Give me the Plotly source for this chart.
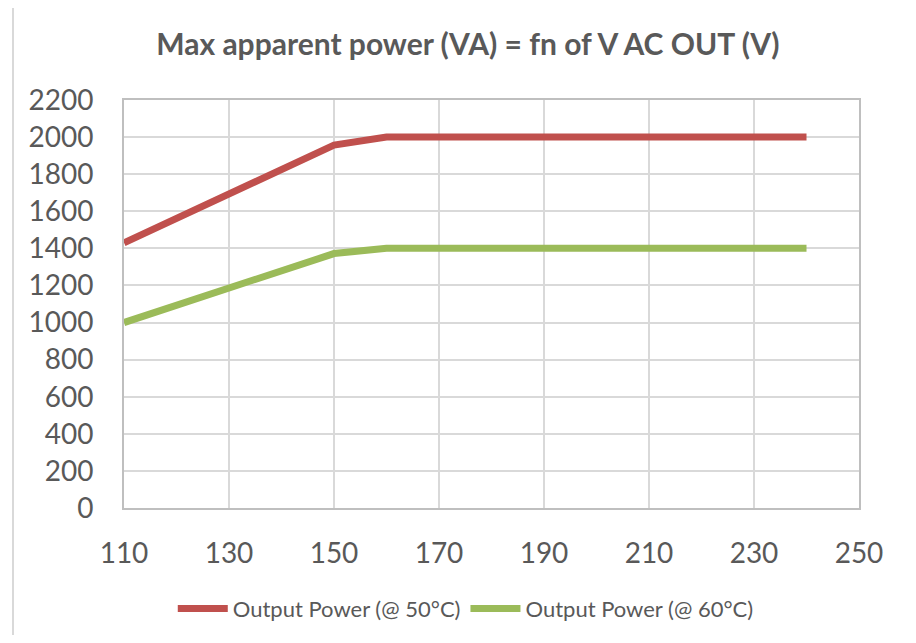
import plotly.graph_objects as go

# Output voltage (V) and max apparent power (VA)
v_out = [110, 150, 160, 240]
power_50c = [1430, 1957, 2000, 2000]
power_60c = [1000, 1372, 1400, 1400]

x_ticks = [110, 130, 150, 170, 190, 210, 230, 250]
y_ticks = list(range(0, 2201, 200))

FONT = "Lato"
GRID = "#d9d9d9"
TXT = "#595959"

fig = go.Figure()
fig.add_trace(go.Scatter(x=v_out, y=power_50c, mode="lines",
                         name="Output Power (@ 50°C)",
                         line=dict(color="#c0504d", width=7)))
fig.add_trace(go.Scatter(x=v_out, y=power_60c, mode="lines",
                         name="Output Power (@ 60°C)",
                         line=dict(color="#9bbb59", width=7)))

# page body has an 8px margin, so the figure is a bit smaller than the window
fig.update_layout(
    width=900, height=627,
    margin=dict(l=116, r=49, t=92, b=127),
    paper_bgcolor="white", plot_bgcolor="white",
    font=dict(family=FONT, color=TXT),
    title=dict(text="<b>Max apparent power (VA) = fn of V AC OUT (V)</b>",
               x=0.511, xanchor="center", y=0.942, yanchor="middle",
               font=dict(size=30, color=TXT, family=FONT)),
    showlegend=True,
    legend=dict(orientation="h", x=0.465, xanchor="center",
                yref="container", y=0.042, yanchor="middle",
                font=dict(size=22, color=TXT), itemwidth=50, traceorder="normal"),
    shapes=[dict(type="rect", xref="paper", yref="paper",
                 x0=-0.151, x1=1.072, y0=-0.36, y1=1.235,
                 line=dict(color=GRID, width=2), layer="below")],
)
fig.update_xaxes(range=[110, 250], tickvals=x_ticks, showgrid=True,
                 gridcolor=GRID, gridwidth=2, showline=True, linecolor="#bfbfbf",
                 linewidth=2, mirror=True, zeroline=False, ticks="",
                 tickfont=dict(size=28, color=TXT), ticklabelstandoff=19)
fig.update_yaxes(range=[0, 2200], tickvals=y_ticks, showgrid=True,
                 gridcolor=GRID, gridwidth=2, showline=True, linecolor="#bfbfbf",
                 linewidth=2, mirror=True, zeroline=False, ticks="",
                 tickfont=dict(size=28, color=TXT), ticklabelstandoff=23)

fig.write_html("out.html")
